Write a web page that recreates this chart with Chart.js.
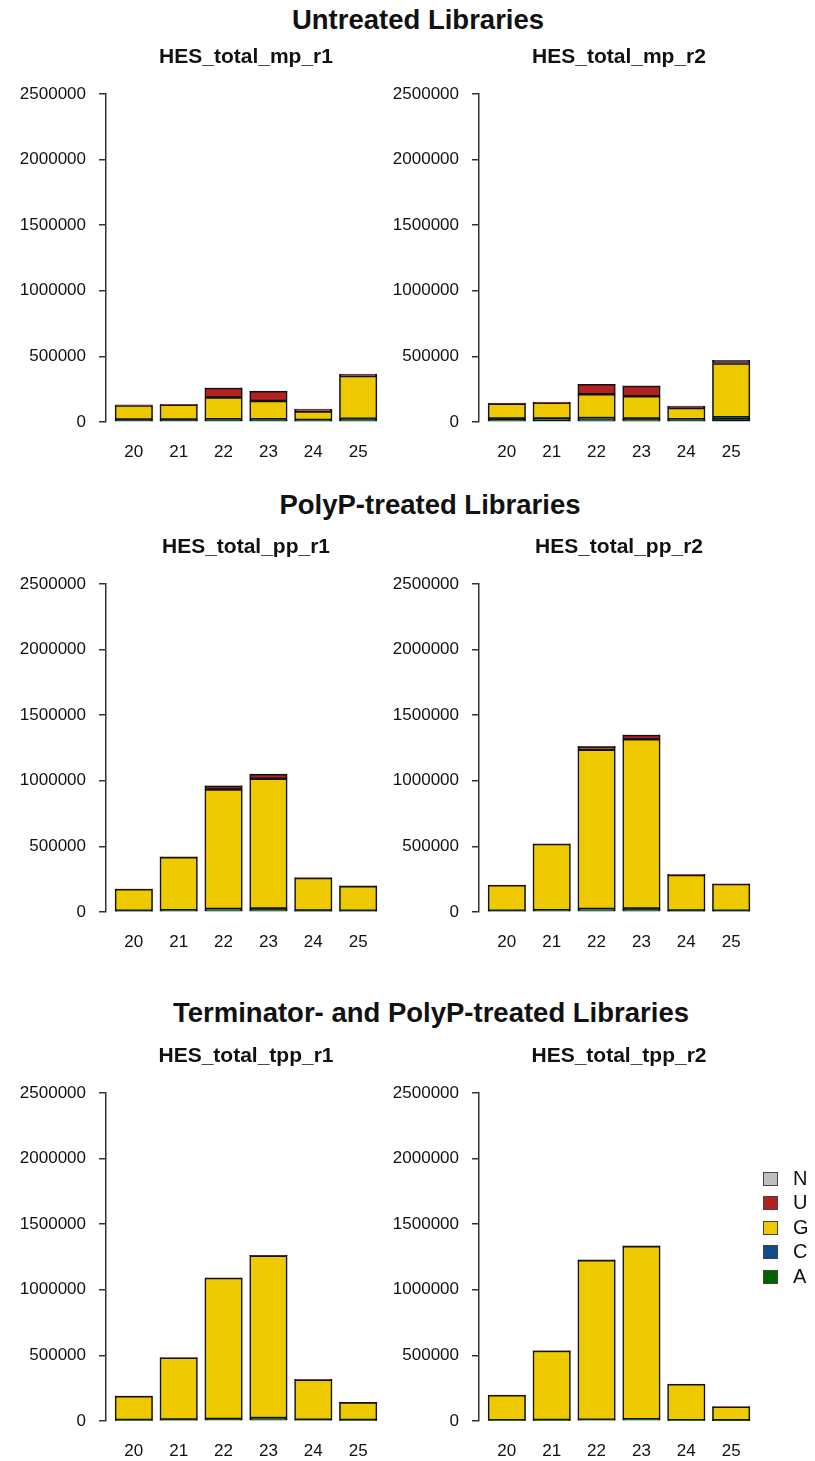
<!DOCTYPE html>
<html>
<head>
<meta charset="utf-8">
<script src="https://cdn.jsdelivr.net/npm/chart.js@4.4.1/dist/chart.umd.min.js"></script>
<style>
  body { margin: 0; background: #fff; width: 815px; height: 1461px; position: relative; overflow: hidden;
         font-family: "Liberation Sans", Arial, sans-serif; color: #111; }
  .main-title { position: absolute; width: 700px; margin-left: -350px; text-align: center;
                font-weight: bold; font-size: 27.5px; line-height: 32px; height: 32px; }
  .panel { position: absolute; }
  .legend-row { position: absolute; left: 763px; height: 20px; }
  .legend-box { position: absolute; left: 0; top: 3px; width: 13px; height: 12px; border: 1.5px solid #444; }
  .legend-label { position: absolute; left: 30px; top: -3px; font-size: 20px; line-height: 24px; }
</style>
</head>
<body>
<div id="root"></div>
<script>
// ── DATI ─────────────────────────────────────
// lunghezze delle letture
const LENGTHS = [20, 21, 22, 23, 24, 25];

// basi, ordine di impilamento (dal basso)
const BASES = ['A', 'C', 'G', 'U', 'N'];
const BASE_COLORS = ['#006400', '#104e8b', '#eec900', '#b22222', '#bebebe'];

// conteggi per libreria: righe = A, C, G, U, N
const HES_TOTAL_MP_R1 = [
  [10000, 10000, 12000, 12000, 8000, 22000],
  [8000, 8000, 8000, 8000, 7000, 3000],
  [108000, 113000, 166000, 140000, 66000, 325000],
  [4000, 4000, 73000, 74000, 18000, 14000],
  [0, 0, 1000, 1000, 0, 1000]
];
const HES_TOTAL_MP_R2 = [
  [20000, 8000, 22000, 18000, 12000, 32000],
  [6000, 18000, 8000, 8000, 8000, 4000],
  [114000, 120000, 181000, 170000, 86000, 410000],
  [5000, 6000, 76000, 78000, 16000, 22000],
  [0, 0, 1000, 1000, 0, 2000]
];
const HES_TOTAL_PP_R1 = [
  [6000, 8000, 15000, 18000, 7000, 6000],
  [4000, 5000, 8000, 8000, 4000, 4000],
  [164000, 405000, 910000, 990000, 248000, 187000],
  [1000, 2000, 28000, 35000, 3000, 3000],
  [0, 0, 1000, 1000, 0, 0]
];
const HES_TOTAL_PP_R2 = [
  [6000, 8000, 15000, 18000, 7000, 6000],
  [4000, 5000, 8000, 8000, 4000, 4000],
  [194000, 505000, 1213000, 1290000, 271000, 203000],
  [1000, 2000, 25000, 33000, 6000, 2000],
  [0, 0, 1000, 1000, 0, 0]
];
const HES_TOTAL_TPP_R1 = [
  [5000, 7000, 10000, 16000, 6000, 5000],
  [3000, 4000, 5000, 6000, 3000, 3000],
  [181000, 471000, 1075000, 1238000, 305000, 134000],
  [1000, 1000, 2000, 2000, 4000, 1000],
  [0, 0, 0, 0, 0, 0]
];
const HES_TOTAL_TPP_R2 = [
  [4000, 5000, 6000, 8000, 4000, 3000],
  [2000, 3000, 4000, 5000, 2000, 2000],
  [190000, 526000, 1216000, 1320000, 274000, 103000],
  [1000, 1000, 2000, 2000, 2000, 1000],
  [0, 0, 0, 0, 0, 0]
];

const Y_MAX = 2500000;
const Y_STEP = 500000;

const SECTION_TITLES = ['Untreated Libraries', 'PolyP-treated Libraries', 'Terminator- and PolyP-treated Libraries'];

// ── LAYOUT ───────────────────────────────────
const ROW_TOPS = [94, 584, 1093];          // top dell'area del grafico
const COL_LEFTS = [0, 373];                // bordo sinistro del canvas
const SECTION_Y = [20, 505, 1013];
const SECTION_X = [418, 430, 431];

const PANELS = [
  { name: 'HES_total_mp_r1', data: HES_TOTAL_MP_R1, row: 0, col: 0 },
  { name: 'HES_total_mp_r2', data: HES_TOTAL_MP_R2, row: 0, col: 1 },
  { name: 'HES_total_pp_r1', data: HES_TOTAL_PP_R1, row: 1, col: 0 },
  { name: 'HES_total_pp_r2', data: HES_TOTAL_PP_R2, row: 1, col: 1 },
  { name: 'HES_total_tpp_r1', data: HES_TOTAL_TPP_R1, row: 2, col: 0 },
  { name: 'HES_total_tpp_r2', data: HES_TOTAL_TPP_R2, row: 2, col: 1 }
];

Chart.defaults.font.family = '"Liberation Sans", Arial, sans-serif';
Chart.defaults.color = '#111';

const root = document.getElementById('root');

// titoli di sezione
SECTION_TITLES.forEach((t, i) => {
  const d = document.createElement('div');
  d.className = 'main-title';
  d.textContent = t;
  d.style.left = SECTION_X[i] + 'px';
  d.style.top = (SECTION_Y[i] - 16) + 'px';
  root.appendChild(d);
});

// ── PANNELLI ─────────────────────────────────
const Y_AXIS_W = 106;
const PLOT_W = 280;
const CANVAS_W = 2 * Y_AXIS_W + PLOT_W;    // simmetrico: il titolo resta centrato sul grafico
const TITLE_BLOCK = 51;
const PLOT_H = 328;
const AXIS_H = 41;

function buildPanel(p) {
  const h = TITLE_BLOCK + PLOT_H + AXIS_H;
  const wrap = document.createElement('div');
  wrap.className = 'panel';
  wrap.style.left = COL_LEFTS[p.col] + 'px';
  wrap.style.top = (ROW_TOPS[p.row] - TITLE_BLOCK) + 'px';
  const canvas = document.createElement('canvas');
  canvas.width = CANVAS_W;
  canvas.height = h;
  canvas.style.width = CANVAS_W + 'px';
  canvas.style.height = h + 'px';
  wrap.appendChild(canvas);
  root.appendChild(wrap);

  const datasets = BASES.map((b, i) => ({
    label: b,
    data: p.data[i],
    backgroundColor: BASE_COLORS[i],
    borderColor: '#111',
    borderWidth: 1.6,
    borderSkipped: false,
    barThickness: 37.5,
    grouped: false
  }));

  new Chart(canvas, {
    type: 'bar',
    data: { labels: LENGTHS, datasets: datasets },
    options: {
      responsive: false,
      animation: false,
      devicePixelRatio: 1,
      layout: { padding: 0 },
      plugins: {
        legend: { display: false },
        tooltip: { enabled: false },
        title: {
          display: true,
          text: p.name,
          color: '#111',
          font: { size: 21, weight: 'bold' },
          padding: { top: 1.5, bottom: TITLE_BLOCK - 25.2 - 1.5 }
        }
      },
      scales: {
        x: {
          type: 'linear',
          min: 19.38,
          max: 25.62,
          offset: false,
          grid: { display: false, drawTicks: false, offset: false },
          border: { display: false },
          afterBuildTicks: s => { s.ticks = LENGTHS.map(v => ({ value: v })); },
          afterFit: s => { s.height = AXIS_H; },
          ticks: { color: '#111', font: { size: 17 }, padding: 20, maxRotation: 0, callback: v => String(v) }
        },
        y: {
          stacked: true,
          min: 0,
          max: Y_MAX,
          afterFit: s => { s.width = Y_AXIS_W; },
          grid: { drawOnChartArea: false, drawTicks: true, tickLength: 7, color: '#333', lineWidth: 1.5 },
          border: { display: true, color: '#333', width: 1.5 },
          ticks: { stepSize: Y_STEP, color: '#111', font: { size: 17 }, padding: 13, callback: v => String(v) }
        },
        // asse vuoto a destra, solo per tenere l'area del grafico centrata
        yPad: {
          position: 'right',
          min: 0,
          max: Y_MAX,
          afterFit: s => { s.width = Y_AXIS_W; },
          grid: { display: false, drawTicks: false },
          border: { display: false },
          ticks: { display: false }
        }
      }
    }
  });
}

PANELS.forEach(buildPanel);

// ── LEGENDA ──────────────────────────────────
const LEGEND_TOP = 1169;
const LEGEND_STEP = 24.4;
[...BASES].reverse().forEach((b, i) => {
  const idx = BASES.length - 1 - i;
  const row = document.createElement('div');
  row.className = 'legend-row';
  row.style.top = (LEGEND_TOP + i * LEGEND_STEP) + 'px';
  row.innerHTML = `<div class="legend-box" style="background:${BASE_COLORS[idx]}"></div><div class="legend-label">${b}</div>`;
  root.appendChild(row);
});
</script>
</body>
</html>
